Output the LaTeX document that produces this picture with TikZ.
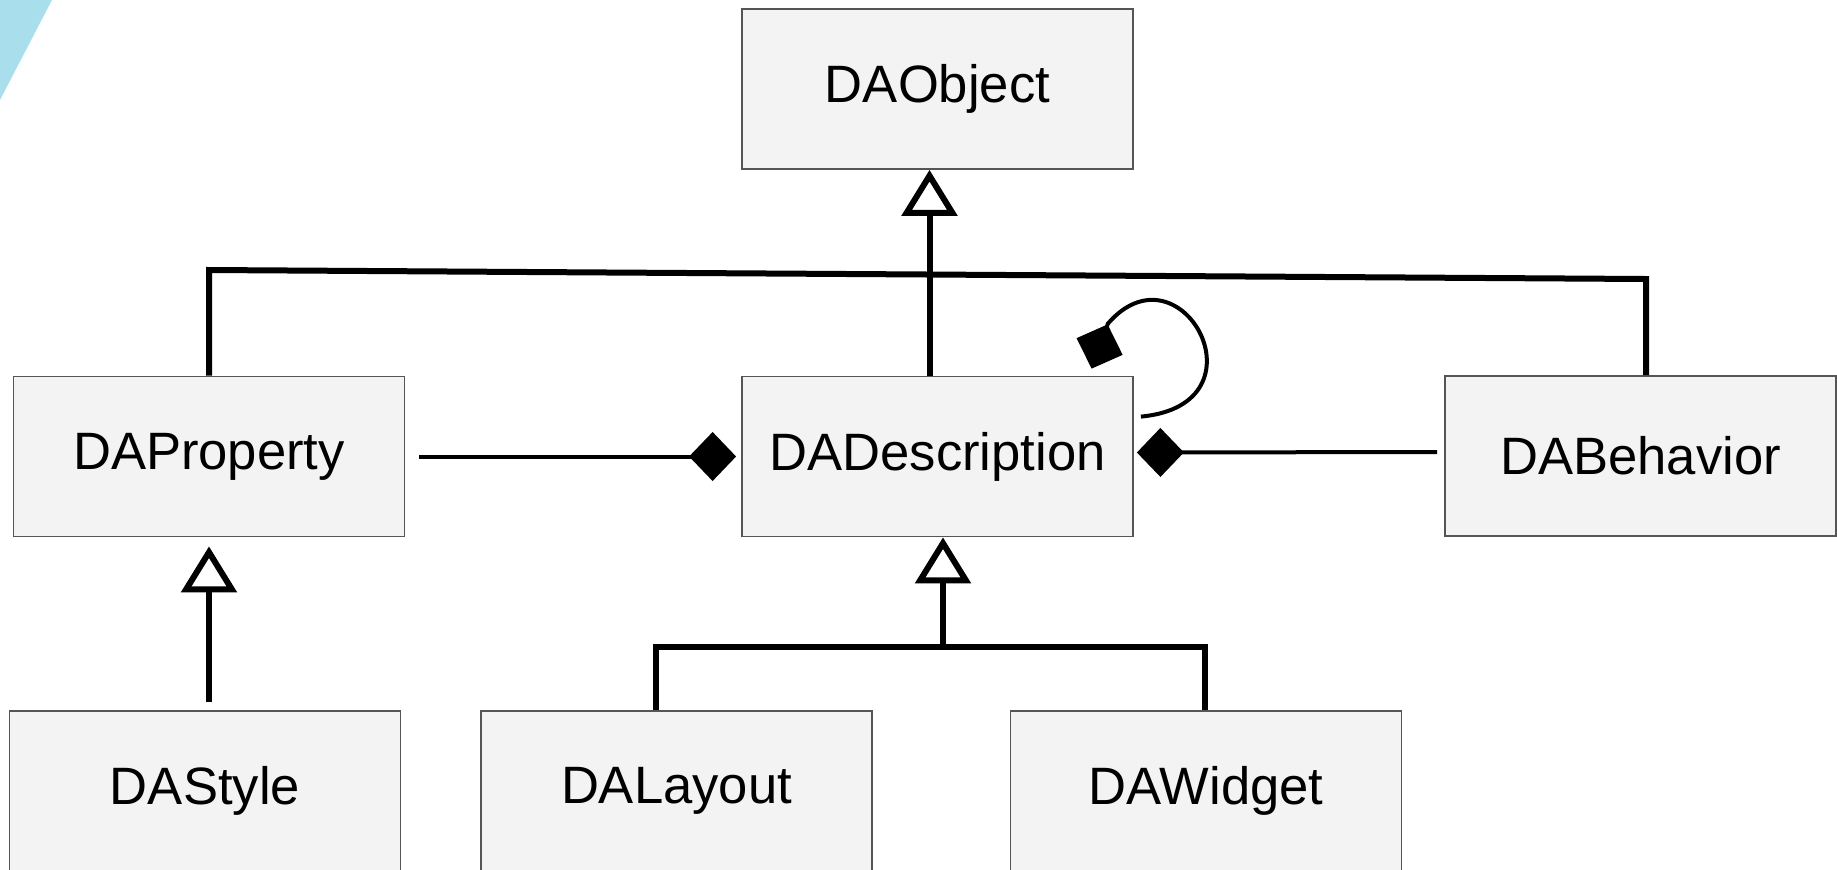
\documentclass[tikz,border=0pt]{standalone}
\usepackage{fontspec}
\setmainfont{Liberation Sans}
\usetikzlibrary{arrows.meta}
\definecolor{boxfill}{HTML}{F3F3F3}
\definecolor{boxline}{HTML}{555555}
\definecolor{corner}{HTML}{A9DFEC}

\begin{document}
\begin{tikzpicture}[x=0.5pt,y=-0.5pt,
  cls/.style={draw=boxline,line width=0.9pt,fill=boxfill,minimum width=195.5pt,minimum height=80pt,inner sep=0pt,font=\fontsize{26.3}{30}\selectfont},
  gen/.style={line width=3pt,-{Triangle[open,length=23pt,width=27.5pt]}},
  tree/.style={line width=3pt},
  comp/.style={line width=2pt,-{Diamond[length=23.5pt,width=24.5pt]}}]
\useasboundingbox (0,0) rectangle (1837,869);
\fill[corner] (0,0) -- (52,0) -- (0,100) -- cycle;

% classes
\node[cls] (obj) at (937.5,89) {DAObject};
\node[cls] (prop) at (209,456.5) {DAProperty};
\node[cls] (desc) at (937.5,456.5) {DADescription};
\node[cls] (beh) at (1640.5,456) {DABehavior};
\node[cls] (style) at (205,791) {DAStyle};
\node[cls] (layout) at (676.5,791) {DALayout};
\node[cls] (widget) at (1206,791) {DAWidget};

% inheritance from DAObject
\coordinate (barL) at (209,270);
\coordinate (barR) at (1646,279);
\draw[tree] (prop.north) -- (barL) -- (barR) -- (barR |- beh.north);
\draw[gen] ([xshift=-4pt]desc.north) -- ([xshift=-4pt]obj.south);

% inheritance from DADescription
\coordinate (jn) at (943,647);
\coordinate (jl) at (656,647);
\coordinate (jr) at (1205,647);
\draw[tree] (jl |- layout.north) -- (jl) -- (jr) -- (jr |- widget.north);
\draw[gen] (jn) -- ([xshift=2.75pt]desc.south);

\draw[gen,shorten <=4pt,shorten >=4.5pt] (prop.south |- style.north) -- (prop.south);

% composition
\draw[comp,shorten <=7pt,shorten >=2.5pt] (prop.east) -- (desc.west);
\draw[comp,shorten <=3.5pt,shorten >=1.5pt] ([yshift=2pt]beh.west) -- ([yshift=2pt]desc.east);
\draw[comp] ([shift={(7,41)}]desc.north east) .. controls +(130,-12) and +(73,-84) .. ([shift={(-26,-52)}]desc.north east) -- ([shift={(-42.3,-7)}]desc.north east);
\end{tikzpicture}
\end{document}
